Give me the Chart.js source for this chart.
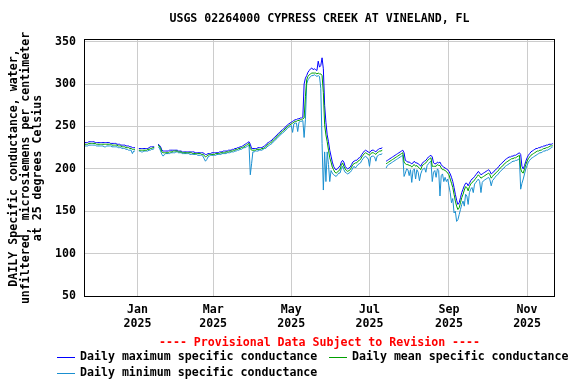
<!DOCTYPE html>
<html>
<head>
<meta charset="utf-8">
<script src="https://cdn.jsdelivr.net/npm/chart.js@4.4.1/dist/chart.umd.min.js"></script>
<style>
html,body{margin:0;padding:0;background:#fff;}
canvas{display:block;}
</style>
</head>
<body>
<canvas id="c" width="576" height="384"></canvas>
<script>
// ---- Data (daily values, starting 2024-11-21) ----
const startDate = '2024-11-21';
const endDate = '2025-11-22';

const dailyMax = [
231,231,231,232,232,232,232,232,231,231,
231,231,231,231,231,231,231,231,231,231,
230,230,230,230,230,229,229,229,228,228,
228,228,227,227,227,226,226,225,225,225,
null,null,
224,224,224,224,224,224,224,224,225,226,226,226,226,
null,null,
229,228,226,222,221,221,
221,221,221,222,222,222,222,222,222,222,221,221,221,
220,220,220,220,220,220,220,220,220,220,219,219,219,219,219,219,219,
218,217,217,218,218,218,219,
219,219,219,219,219,220,220,220,221,221,
221,221,222,222,222,223,223,224,224,225,
225,226,226,227,228,229,230,231,232,
229,224,
224,224,224,224,225,225,225,225,226,
227,228,230,231,232,233,234,236,237,239,
240,242,243,245,246,247,249,250,252,253,
254,255,256,257,258,258,259,259,260,260,261,
300,307,310,314,316,318,319,317,318,317,316,327,320,322,331,
318,275,255,240,232,222,215,208,203,200,199,200,202,203,
208,210,208,203,201,200,201,202,205,208,209,210,210,212,213,214,217,219,221,222,221,220,219,221,222,222,221,220,222,223,224,224,225,
null,null,
209,210,211,212,213,214,215,216,217,218,219,220,221,222,
219,210,209,208,208,207,206,207,209,207,207,206,205,203,206,208,209,210,212,214,215,216,
214,207,206,206,208,207,208,205,203,202,201,200,199,197,194,190,185,178,170,163,158,160,166,172,176,180,183,183,180,
183,186,188,189,191,193,195,197,195,193,194,195,196,197,198,199,197,194,195,197,198,200,201,203,205,206,208,209,211,212,213,214,214,215,215,216,216,217,218,219,
217,203,200,204,209,213,216,218,220,221,222,223,224,224,225,225,226,226,227,227,228,228,229,229,229,230
];

const dailyMean = [
229,229,229,230,230,230,230,230,230,229,
229,229,229,229,229,229,229,229,229,229,
229,228,228,228,228,228,227,227,227,226,
226,226,225,225,225,224,224,223,223,223,
null,null,
222,222,222,222,222,222,222,223,223,224,224,225,225,
null,null,
228,227,224,220,219,219,
219,219,219,220,220,220,221,221,221,221,220,220,220,
219,219,219,219,219,219,219,219,218,218,218,218,218,218,218,217,217,
216,214,215,216,217,217,217,
217,217,218,218,218,218,219,219,219,219,
220,220,220,221,221,221,222,222,223,223,
224,224,225,225,226,227,228,229,230,
224,222,
222,222,222,223,223,223,223,224,224,
225,226,228,229,230,231,232,234,235,237,
238,240,241,243,244,245,247,248,250,251,
252,253,254,255,256,256,257,257,258,258,259,
260,285,305,309,311,312,313,313,313,313,312,313,312,312,310,
290,252,240,232,222,213,208,202,199,196,195,196,198,199,
204,207,203,200,198,197,198,199,202,205,206,207,207,209,210,211,214,216,218,219,218,217,216,218,219,219,218,217,219,220,221,221,222,
null,null,
206,207,208,209,210,211,212,213,214,215,216,217,218,219,
208,206,205,205,204,204,202,204,205,203,204,202,201,199,203,205,206,207,209,211,212,213,
203,203,203,203,205,204,204,201,199,199,198,197,195,193,188,183,178,170,162,156,152,154,160,166,170,175,179,178,174,
179,182,184,185,187,189,191,193,191,189,190,191,192,193,194,195,193,189,191,193,194,196,197,199,201,202,204,205,207,208,209,210,211,212,212,213,213,214,215,216,
200,196,195,200,205,209,212,214,216,217,218,219,220,221,221,222,222,223,224,224,225,225,226,227,227,228
];

const dailyMin = [
227,227,227,228,228,228,228,228,228,227,
227,227,227,227,227,226,226,227,227,227,
227,226,226,226,226,226,225,225,225,224,
224,224,223,223,222,222,222,218,221,221,
null,null,
221,221,220,220,221,221,221,221,222,222,223,223,224,
null,null,
226,225,221,217,215,217,
218,218,218,218,219,219,219,219,220,220,219,219,219,
218,218,218,218,218,218,217,217,217,217,217,217,216,216,216,216,215,
212,209,211,214,215,216,216,
216,216,216,217,217,217,217,218,218,218,
218,219,219,219,220,220,220,221,221,222,
222,223,223,224,225,225,226,227,228,
193,206,
220,220,221,221,221,222,222,222,223,
224,224,226,227,228,229,230,232,233,235,
236,238,239,241,242,243,245,246,248,249,
250,251,243,253,254,254,244,255,256,256,257,
237,258,300,305,307,309,310,310,311,310,309,310,309,295,230,
175,220,185,220,205,185,198,195,193,192,191,193,195,195,
200,203,199,196,195,194,195,196,198,201,203,201,203,205,206,207,210,212,214,215,213,212,203,214,215,215,214,209,215,216,217,217,218,
null,null,
201,204,205,206,207,208,209,210,211,212,213,214,215,216,
191,195,200,199,192,199,184,198,200,188,199,196,186,194,198,200,201,196,204,206,208,209,
185,196,198,190,200,198,168,192,194,185,190,185,188,180,172,160,165,148,150,138,140,146,152,158,162,156,170,168,158,
172,176,178,172,182,184,186,188,185,172,184,186,187,188,189,190,187,180,186,188,190,192,193,195,197,198,200,201,203,204,205,206,207,208,209,209,210,210,211,212,
176,183,188,194,200,204,208,210,212,213,214,215,216,217,218,219,219,220,221,221,222,222,223,224,225,226
];

const xTickDates = ['2025-01-01','2025-03-01','2025-05-01','2025-07-01','2025-09-01','2025-11-01'];
const xTickMonths = ['Jan','Mar','May','Jul','Sep','Nov'];
const xTickYears = ['2025','2025','2025','2025','2025','2025'];
const yTicks = [50,100,150,200,250,300,350];

const titleText = 'USGS 02264000 CYPRESS CREEK AT VINELAND, FL';
const yTitleLines = ['DAILY Specific conductance, water,','unfiltered, microsiemens per centimeter','at 25 degrees Celsius'];
const provisionalText = '---- Provisional Data Subject to Revision ----';
const seriesNames = ['Daily maximum specific conductance','Daily mean specific conductance','Daily minimum specific conductance'];
const seriesColors = ['#0000ff','#00a000','#1a8fd0'];

// ---- Build ----
const DAY = 86400000;
const t0 = Date.parse(startDate);
const dayOf = s => Math.round((Date.parse(s) - t0) / DAY);
const xTickVals = xTickDates.map(dayOf);
const toPts = arr => arr.map((v, i) => ({x: i, y: v}));

const FONT = '"DejaVu Sans Mono", "Liberation Mono", monospace';
const FS = 11.6;

const textPlugin = {
  id: 'texts',
  beforeDatasetsDraw(chart) {
    const {ctx, chartArea: a} = chart;
    ctx.save();
    ctx.strokeStyle = '#000';
    ctx.lineWidth = 1;
    ctx.strokeRect(Math.round(a.left) - 0.5, Math.round(a.top) - 0.5,
      Math.round(a.right - a.left) + 1, Math.round(a.bottom - a.top) + 1);
    ctx.restore();
  },
  afterDraw(chart) {
    const {ctx, chartArea: a} = chart;
    ctx.save();
    ctx.font = 'bold ' + FS + 'px ' + FONT;
    ctx.fillStyle = '#000';
    ctx.textBaseline = 'middle';
    ctx.textAlign = 'center';
    const cx = (a.left + a.right) / 2;
    ctx.fillText(titleText, cx, 19);
    // y title
    const cy = (a.top + a.bottom) / 2;
    const xs = [14, 26, 38];
    yTitleLines.forEach((t, i) => {
      ctx.save();
      ctx.translate(xs[i], cy);
      ctx.rotate(-Math.PI / 2);
      ctx.fillText(t, 0, 0);
      ctx.restore();
    });
    // provisional
    ctx.fillStyle = '#ff0000';
    ctx.fillText(provisionalText, cx, 343);
    // legend
    ctx.textAlign = 'left';
    const items = [
      {x: 57, y: 357, i: 0},
      {x: 329, y: 357, i: 1},
      {x: 57, y: 373, i: 2}
    ];
    items.forEach(it => {
      ctx.strokeStyle = seriesColors[it.i];
      ctx.lineWidth = 1;
      ctx.beginPath();
      ctx.moveTo(it.x, it.y + 0.5);
      ctx.lineTo(it.x + 18, it.y + 0.5);
      ctx.stroke();
      ctx.fillStyle = '#000';
      ctx.fillText(seriesNames[it.i], it.x + 23, it.y);
    });
    ctx.restore();
  }
};

Chart.defaults.font.family = FONT;
Chart.defaults.font.size = FS;
Chart.defaults.font.weight = 'bold';
Chart.defaults.color = '#000';

new Chart(document.getElementById('c'), {
  type: 'line',
  data: {
    datasets: [
      {label: seriesNames[1], data: toPts(dailyMean), borderColor: seriesColors[1], order: 0},
      {label: seriesNames[0], data: toPts(dailyMax), borderColor: seriesColors[0], order: 2},
      {label: seriesNames[2], data: toPts(dailyMin), borderColor: seriesColors[2], order: 1}
    ]
  },
  options: {
    responsive: false,
    animation: false,
    devicePixelRatio: 1,
    parsing: false,
    normalized: true,
    spanGaps: false,
    elements: {
      line: {borderWidth: 1, tension: 0, fill: false},
      point: {radius: 0, hoverRadius: 0}
    },
    layout: {padding: {top: 40, right: 22, left: 0, bottom: 0}},
    plugins: {legend: {display: false}, title: {display: false}, tooltip: {enabled: false}},
    scales: {
      x: {
        type: 'linear',
        min: 0,
        max: dayOf(endDate),
        afterBuildTicks: s => { s.ticks = xTickVals.map(v => ({value: v})); },
        afterFit: s => { s.height = 88; },
        grid: {color: '#cccccc', lineWidth: 1, drawTicks: false},
        border: {display: false},
        ticks: {
          padding: 7,
          maxRotation: 0,
          autoSkip: false,
          callback: (v) => { const k = xTickVals.indexOf(v); return k >= 0 ? [xTickMonths[k], xTickYears[k]] : ''; }
        }
      },
      y: {
        type: 'linear',
        min: 50,
        max: 352,
        afterBuildTicks: s => { s.ticks = yTicks.map(v => ({value: v})); },
        afterFit: s => { s.width = 85; },
        grid: {color: '#cccccc', lineWidth: 1, drawTicks: false},
        border: {display: false},
        ticks: {padding: 9, callback: v => String(v)}
      }
    }
  },
  plugins: [textPlugin]
});
</script>
</body>
</html>
